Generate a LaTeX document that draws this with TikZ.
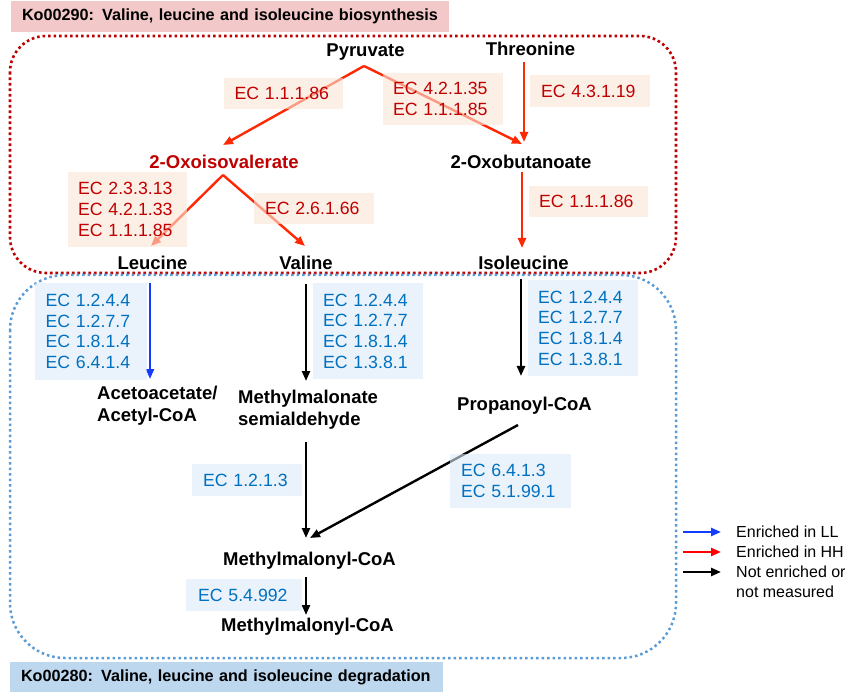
\documentclass[tikz,border=0pt]{standalone}
\usepackage{fontspec}
\setmainfont{Liberation Sans}
\usetikzlibrary{arrows.meta}
\definecolor{ectred}{RGB}{192,0,0}
\definecolor{ectblue}{RGB}{0,112,192}
\definecolor{redfillc}{RGB}{250,229,214}
\definecolor{bluefillc}{RGB}{220,235,248}
\definecolor{arrred}{RGB}{255,40,5}
\definecolor{arrblue}{RGB}{20,60,255}
\definecolor{legred}{RGB}{255,0,0}
\definecolor{dotred}{RGB}{192,0,0}
\definecolor{dotblue}{RGB}{91,155,213}
\definecolor{hdrpink}{RGB}{242,200,200}
\definecolor{hdrblue}{RGB}{189,215,238}
\begin{document}
\begin{tikzpicture}[x=1pt,y=-1pt,
  lab/.style={font=\bfseries\fontsize{18.5}{22}\selectfont, inner sep=0pt, text height=13.5pt, text depth=4pt},
  mlab/.style={font=\bfseries\fontsize{18.5}{22}\selectfont, inner sep=0pt, align=left},
  ecbase/.style={font=\fontsize{17.7}{20.7}\selectfont, align=left, inner sep=0pt, fill opacity=0.6, text opacity=1},
  ecr/.style={ecbase, fill=redfillc, text=ectred},
  ecb/.style={ecbase, fill=bluefillc, text=ectblue},
  arr/.style={line width=2.4pt, -{Triangle[length=10pt,width=8pt]}},
  rarr/.style={arr, draw=arrred},
  barr/.style={arr, draw=arrblue},
  karr/.style={arr, draw=black},
  reddot/.style={draw=dotred, line width=2.6pt, dash pattern=on 2.6pt off 2.9pt},
  bluedot/.style={draw=dotblue, line width=2.5pt, dash pattern=on 2.5pt off 3pt},
  hdr/.style={font=\bfseries\fontsize{16.2}{19}\selectfont, inner ysep=0pt, inner xsep=0pt, align=left},
  legtxt/.style={font=\fontsize{16}{20}\selectfont, inner sep=0pt, align=left, anchor=west}
]
\useasboundingbox (0,0) rectangle (851,692);

% headers
\node[hdr, fill=hdrpink, minimum width=438pt, minimum height=31pt, text width=416pt] (hdrtop) at (230,16.5) {Ko00290: Valine, leucine and isoleucine biosynthesis};
\node[hdr, fill=hdrblue, minimum width=433pt, minimum height=30pt, text width=411pt] (hdrbot) at (226.5,677) {Ko00280: Valine, leucine and isoleucine degradation};

% dotted module frames
\draw[reddot, rounded corners=36pt] (10,36) rectangle (676,273);
\draw[bluedot, rounded corners=55pt] (10,275) rectangle (676,658);

% compound labels
\node[lab] (pyr) at (365.5,51.5) {Pyruvate};
\node[lab] (thr) at (530.5,51) {Threonine};
\node[lab, text=ectred] (oxiv) at (224,163.5) {2-Oxoisovalerate};
\node[lab] (oxbu) at (521,163.5) {2-Oxobutanoate};
\node[lab] (leu) at (152.5,264.5) {Leucine};
\node[lab] (val) at (306,264.5) {Valine};
\node[lab] (ile) at (523.5,264.5) {Isoleucine};
\node[mlab, anchor=north west] (aceto) at (97,385.5) {Acetoacetate/\\Acetyl-CoA};
\node[mlab, anchor=north west] (mmsa) at (238,389.7) {Methylmalonate\\semialdehyde};
\node[lab] (prop) at (524.5,405.5) {Propanoyl-CoA};
\node[lab] (mmc1) at (309.5,561) {Methylmalonyl-CoA};
\node[lab] (mmc2) at (307.5,626.5) {Methylmalonyl-CoA};

% connectors
\draw[rarr] ([shift={(-1.5,14.5)}]pyr.center) -- ([shift={(-1,-18.5)}]oxiv.center);
\draw[rarr] ([shift={(-1.5,14.5)}]pyr.center) -- ([shift={(1,-19.5)}]oxbu.center);
\draw[rarr] ([shift={(-6.5,11)}]thr.center) -- ([shift={(3,-21.5)}]oxbu.center);
\draw[rarr] ([shift={(-1,11.5)}]oxiv.center) -- ([shift={(-1.5,-18.5)}]leu.center);
\draw[rarr] ([shift={(-1,11.5)}]oxiv.center) -- ([shift={(-1,-18.5)}]val.center);
\draw[rarr] ([shift={(1,8.5)}]oxbu.center) -- ([shift={(-1.5,-16.5)}]ile.center);
\draw[barr] ([shift={(-2.5,18.5)}]leu.center) -- ([shift={(53,-6.5)}]aceto.north west);
\draw[karr] ([shift={(0,19.5)}]val.center) -- ([shift={(68,-8.7)}]mmsa.north west);
\draw[karr] ([shift={(-2.5,14.5)}]ile.center) -- ([shift={(-3.5,-29.5)}]prop.center);
\draw[karr] ([shift={(68,52.3)}]mmsa.north west) -- ([shift={(-3.5,-23)}]mmc1.center);
\draw[karr] ([shift={(-6.5,19.5)}]prop.center) -- ([shift={(0.5,-23)}]mmc1.center);
\draw[karr] ([shift={(-3.5,16)}]mmc1.center) -- ([shift={(-1.5,-11.5)}]mmc2.center);

% enzyme boxes
\node[ecr, minimum width=119pt, minimum height=31pt, text width=98pt] (ec1) at (283.5,93.5) {EC 1.1.1.86};
\node[ecr, minimum width=120pt, minimum height=52pt, text width=100pt] (ec2) at (443,99) {EC 4.2.1.35\\EC 1.1.1.85};
\node[ecr, minimum width=120pt, minimum height=32pt, text width=98pt] (ec3) at (590,91) {EC 4.3.1.19};
\node[ecr, minimum width=119pt, minimum height=75pt, text width=99pt] (ec4) at (127.5,209.5) {EC 2.3.3.13\\EC 4.2.1.33\\EC 1.1.1.85};
\node[ecr, minimum width=120pt, minimum height=31pt, text width=98pt] (ec5) at (314,208.5) {EC 2.6.1.66};
\node[ecr, minimum width=119pt, minimum height=31pt, text width=99pt] (ec6) at (588.5,201.5) {EC 1.1.1.86};
\node[ecb, minimum width=112pt, minimum height=97pt, text width=91pt] (ec7) at (91,331.5) {EC 1.2.4.4\\EC 1.2.7.7\\EC 1.8.1.4\\EC 6.4.1.4};
\node[ecb, minimum width=110pt, minimum height=96pt, text width=90pt] (ec8) at (368,331) {EC 1.2.4.4\\EC 1.2.7.7\\EC 1.8.1.4\\EC 1.3.8.1};
\node[ecb, minimum width=110pt, minimum height=96pt, text width=90pt] (ec9) at (583,328) {EC 1.2.4.4\\EC 1.2.7.7\\EC 1.8.1.4\\EC 1.3.8.1};
\node[ecb, minimum width=110pt, minimum height=32pt, text width=88pt] (ec10) at (247,480) {EC 1.2.1.3};
\node[ecb, minimum width=121pt, minimum height=54pt, text width=99pt] (ec11) at (510.5,481) {EC 6.4.1.3\\EC 5.1.99.1};
\node[ecb, minimum width=116pt, minimum height=32pt, text width=92pt] (ec12) at (244,595) {EC 5.4.992};

% legend
\node[legtxt] (leg1) at (736,532) {Enriched in LL};
\node[legtxt] (leg2) at (736,552) {Enriched in HH};
\node[legtxt] (leg3) at (736,582) {Not enriched or\\not measured};
\coordinate (l1s) at (683,532);
\coordinate (l2s) at (683,552);
\coordinate (l3s) at (683,572);
\draw[arr, draw=arrblue] (l1s) -- ([xshift=-15pt]leg1.west);
\draw[arr, draw=legred] (l2s) -- ([xshift=-15pt]leg2.west);
\draw[arr, draw=black] (l3s) -- ([shift={(-15,-10)}]leg3.west);
\end{tikzpicture}
\end{document}
